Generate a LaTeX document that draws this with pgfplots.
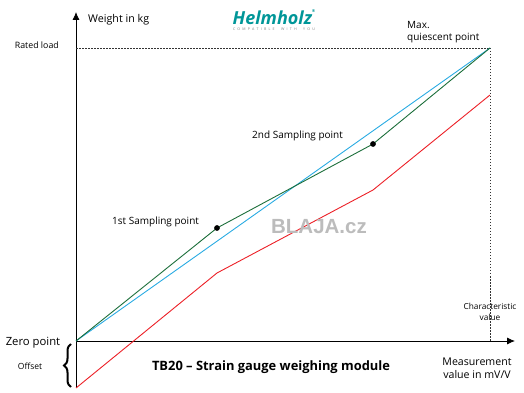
\documentclass[border=0pt]{standalone}
\usepackage{pgfplots}
\pgfplotsset{compat=1.18}
\usepackage{fontspec}
\setmainfont{Open Sans}
\newfontfamily\wmfont{Liberation Sans}
\usetikzlibrary{arrows.meta,decorations.pathreplacing}
\definecolor{lblue}{RGB}{41,171,226}
\definecolor{dgreen}{RGB}{28,110,58}
\definecolor{lred}{RGB}{236,32,39}
\definecolor{hteal}{RGB}{0,150,152}
\definecolor{wmgray}{RGB}{188,188,188}
\begin{document}
\begin{tikzpicture}
\useasboundingbox (0,0) rectangle (524pt,393pt);
\begin{axis}[scale only axis, width=524pt, height=393pt,
  anchor=south west, at={(0,0)},
  xmin=-76, xmax=448, ymin=-52, ymax=341, hide axis, clip=false]
% axes
\addplot[black, line width=0.8pt, -{Latex[length=8pt,width=7pt]}] coordinates {(0,-47) (0,329)};
\addplot[black, line width=0.8pt, -{Latex[length=8pt,width=7pt]}] coordinates {(0,0) (439,0)};
% dotted guide lines
\addplot[black!80, line width=0.6pt, dash pattern=on 1.5pt off 1.5pt] coordinates {(0,293) (414,293) (414,0)};
% curves
\addplot[lblue, line width=0.9pt] coordinates {(0,0) (414,293)};
\addplot[dgreen, line width=0.9pt] coordinates {(0,0) (141,113) (297,197) (414,293)};
\addplot[lred, line width=0.9pt] coordinates {(0,-47) (141,68) (297,151) (414,246)};
\addplot[only marks, mark=*, mark size=2.6pt, black] coordinates {(141,113) (297,197)};
% brace
\draw[line width=2pt, decorate, decoration={brace, amplitude=7pt}] (axis cs:-5,-46) -- (axis cs:-5,-3);
% texts
\node[anchor=west, inner sep=0pt, font=\fontsize{10.7}{12}\selectfont] at (axis cs:12,321) {Weight in kg};
\node[anchor=east, inner sep=0pt, font=\fontsize{8.8}{10}\selectfont] at (axis cs:-17,296) {Rated load};
\node[text=hteal, font=\fontsize{18}{19}\selectfont\bfseries\itshape] at (axis cs:198,324) {Helmholz\raisebox{1.2ex}{\fontsize{4}{4}\selectfont\textregistered}};
\node[text=gray, inner sep=0pt, font=\fontsize{3.6}{4}\selectfont] at (axis cs:198,312) {\makebox[82pt][s]{C\hfill O\hfill M\hfill P\hfill A\hfill T\hfill I\hfill B\hfill L\hfill E\hfill\hfill\hfill W\hfill I\hfill T\hfill H\hfill\hfill\hfill Y\hfill O\hfill U}};
\node[anchor=west, inner sep=0pt, font=\fontsize{10}{12}\selectfont] at (axis cs:331,316) {Max.};
\node[anchor=west, inner sep=0pt, font=\fontsize{10}{12}\selectfont] at (axis cs:331,303) {quiescent point};
\node[anchor=west, inner sep=0pt, font=\fontsize{10}{12}\selectfont] at (axis cs:176,205) {2nd Sampling point};
\node[anchor=west, inner sep=0pt, font=\fontsize{10}{12}\selectfont] at (axis cs:36,119) {1st Sampling point};
\node[text=wmgray, font=\wmfont\fontsize{20.5}{22}\selectfont\bfseries] at (axis cs:243,114) {BLAJA.cz};
\node[font=\fontsize{8.3}{9}\selectfont] at (axis cs:414,35) {Characteristic};
\node[font=\fontsize{8.3}{9}\selectfont] at (axis cs:414,24) {value};
\node[font=\fontsize{11.3}{12}\selectfont] at (axis cs:-43,-2) {Zero point};
\node[font=\fontsize{8.5}{9}\selectfont] at (axis cs:-46,-25) {Offset};
\node[font=\fontsize{12.9}{14}\selectfont\bfseries] at (axis cs:195,-26) {TB20 -- Strain gauge weighing module};
\node[font=\fontsize{10.6}{12}\selectfont] at (axis cs:401,-21) {Measurement};
\node[font=\fontsize{10.6}{12}\selectfont] at (axis cs:401,-34) {value in mV/V};
\end{axis}
\end{tikzpicture}
\end{document}
